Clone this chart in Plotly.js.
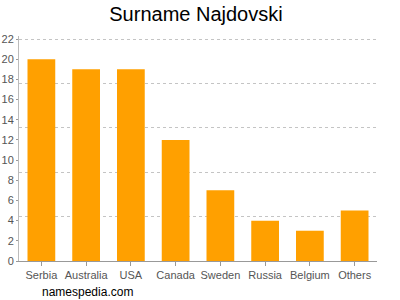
<!DOCTYPE html>
<html>
<head>
<meta charset="utf-8">
<script src="https://cdn.plot.ly/plotly-3.0.1.min.js"></script>
<style>html,body{margin:0;padding:0;background:#fff;}#chart{width:400px;height:300px;}</style>
</head>
<body>
<div id="chart"></div>
<script>
const categories = ["Serbia", "Australia", "USA", "Canada", "Sweden", "Russia", "Belgium", "Others"];
const counts = [20, 19, 19, 12, 7, 4, 3, 5];
const yTickValues = [0, 2, 4, 6, 8, 10, 12, 14, 16, 18, 20, 22];
const gridValues = [4.4, 8.8, 13.2, 17.6, 22];

const traces = [
  {
    type: "bar",
    x: categories,
    y: counts,
    marker: {color: "#ffa000"},
    width: 0.62,
    hoverinfo: "none"
  },
  {
    type: "scatter",
    mode: "none",
    x: categories,
    y: counts,
    yaxis: "y2",
    showlegend: false,
    hoverinfo: "none"
  }
];

const layout = {
  width: 400,
  height: 300,
  margin: {l: 19, r: 23, t: 36, b: 39},
  paper_bgcolor: "#fff",
  plot_bgcolor: "rgba(0,0,0,0)",
  showlegend: false,
  font: {family: "Liberation Sans, Arial, sans-serif", color: "#555", size: 11},
  title: {
    text: "Surname Najdovski",
    font: {family: "Liberation Sans, Arial, sans-serif", size: 20, color: "#000"},
    x: 0.49, xanchor: "center", y: 0.955, yanchor: "middle"
  },
  bargap: 0.38,
  xaxis: {
    type: "category",
    showline: true, linecolor: "#999", linewidth: 1,
    ticks: "outside", ticklen: 4, tickcolor: "#999",
    tickfont: {size: 11, color: "#555"},
    showgrid: false, zeroline: false, fixedrange: true
  },
  yaxis: {
    range: [0, 22.3],
    tickvals: yTickValues,
    ticktext: yTickValues.map(String),
    showline: true, linecolor: "#bbb", linewidth: 1,
    ticks: "outside", ticklen: 2, tickcolor: "#999",
    tickfont: {size: 11, color: "#555"},
    ticklabelstandoff: 0,
    showgrid: false, zeroline: false, fixedrange: true
  },
  yaxis2: {
    overlaying: "y",
    range: [0, 22.3],
    tickvals: gridValues,
    showticklabels: false,
    ticks: "",
    showgrid: true, gridcolor: "#c4c4c4", griddash: "3px,3px", gridwidth: 1,
    showline: false, zeroline: false, fixedrange: true
  },
  annotations: [{
    text: "namespedia.com",
    xref: "paper", yref: "paper",
    x: 0, y: 0, xanchor: "left", yanchor: "middle",
    xshift: 21, yshift: -31,
    showarrow: false,
    font: {family: "Liberation Sans, Arial, sans-serif", size: 12, color: "#000"}
  }]
};

Plotly.newPlot("chart", traces, layout, {displayModeBar: false, staticPlot: true});
</script>
</body>
</html>
